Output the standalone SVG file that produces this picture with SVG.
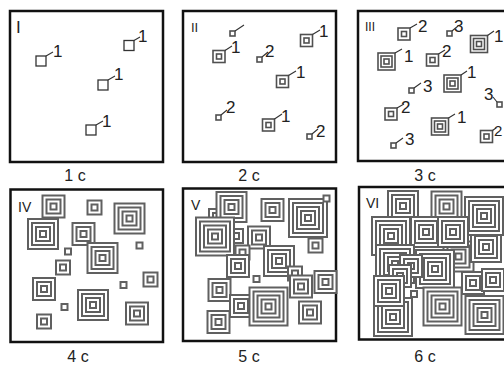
<svg xmlns="http://www.w3.org/2000/svg" xmlns:xlink="http://www.w3.org/1999/xlink" width="504" height="365" viewBox="0 0 504 365">
<style>
.fr{fill:none;stroke:#111;stroke-width:2.5}
.r{fill:#fff;stroke:#606060;stroke-width:2}
.t{fill:#fff;stroke:#505050;stroke-width:1.6}
.p{fill:#fff;stroke:#333;stroke-width:1.3}
.k{fill:none;stroke:#333;stroke-width:1.1}
.n{font-family:"Liberation Sans",Arial,sans-serif;font-size:17px;fill:#222}
.rn{font-family:"Liberation Sans",Arial,sans-serif;font-size:14px;fill:#222}
.c{font-family:"Liberation Sans",Arial,sans-serif;font-size:16px;fill:#222;text-anchor:middle}
</style>
<defs>
<g id="p1"><rect class="p" x="-5" y="-5" width="10" height="10"/></g>
<g id="t1"><rect class="t" x="-2.5" y="-2.5" width="5" height="5"/></g>
<g id="t2"><rect class="t" x="-6" y="-6" width="12" height="12"/><rect class="t" x="-2.5" y="-2.5" width="5" height="5"/></g>
<g id="t3"><rect class="t" x="-8.5" y="-8.5" width="17" height="17"/><rect class="t" x="-5.5" y="-5.5" width="11" height="11"/><rect class="t" x="-2.5" y="-2.5" width="5" height="5"/></g>
<g id="s1"><rect class="r" x="-3" y="-3" width="6" height="6"/></g>
<g id="s2"><rect class="r" x="-7" y="-7" width="14" height="14"/><use href="#s1"/></g>
<g id="s3"><rect class="r" x="-11" y="-11" width="22" height="22"/><use href="#s2"/></g>
<g id="s4"><rect class="r" x="-15" y="-15" width="30" height="30"/><use href="#s3"/></g>
<g id="s5"><rect class="r" x="-19" y="-19" width="38" height="38"/><use href="#s4"/></g>
</defs>

<g id="panel-I">
<rect class="fr" x="10" y="11" width="153" height="151"/>
<text class="rn" x="16" y="33" style="font-size:17px">I</text>
<use href="#p1" x="41" y="61"/><use href="#p1" x="129" y="45.5"/><use href="#p1" x="103" y="85"/><use href="#p1" x="91" y="130"/>
<path class="k" d="M46,56 L53,52 M134,40.5 L140,37 M108,80 L115,76 M96,125 L103,121"/>
<text class="n" x="53" y="57">1</text><text class="n" x="138" y="42">1</text><text class="n" x="114" y="80">1</text><text class="n" x="102" y="127">1</text>
<text class="c" x="75" y="181">1 c</text>
</g>

<g id="panel-II">
<rect class="fr" x="183" y="11" width="153" height="151"/>
<text class="rn" x="191" y="32" style="font-size:13px">II</text>
<use href="#t1" x="232.5" y="33.5"/>
<use href="#t2" x="219" y="56.5"/>
<use href="#t1" x="259.5" y="59.5"/>
<use href="#t2" x="306.5" y="40.5"/>
<use href="#t2" x="282.5" y="81.5"/>
<use href="#t1" x="218.5" y="117.5"/>
<use href="#t2" x="268.5" y="125"/>
<use href="#t1" x="309.5" y="136.5"/>
<path class="k" d="M235,31 L244,25 M225,50.5 L232,46 M262,57 L268,52 M312.5,34.5 L320,30 M288.5,75.5 L296,71 M221,115 L227,110 M274.5,119 L282,114 M312,134 L318,129"/>
<text class="n" x="231" y="53">1</text><text class="n" x="265" y="57">2</text><text class="n" x="319" y="37">1</text><text class="n" x="296" y="78">1</text>
<text class="n" x="226" y="113">2</text><text class="n" x="281" y="122">1</text><text class="n" x="316" y="137">2</text>
<text class="c" x="249" y="181">2 c</text>
</g>

<g id="panel-III">
<rect class="fr" x="358" y="11" width="160" height="150"/>
<text class="rn" x="365" y="31" style="font-size:12px">III</text>
<use href="#t2" x="404" y="34"/>
<use href="#t1" x="449.5" y="33.5"/>
<use href="#t3" x="479" y="44"/>
<use href="#t3" x="386.5" y="61.5"/>
<use href="#t2" x="432.5" y="60"/>
<use href="#t1" x="411.5" y="90.5"/>
<use href="#t3" x="452.5" y="83.5"/>
<use href="#t1" x="499.5" y="104.5"/>
<use href="#t2" x="391" y="114"/>
<use href="#t3" x="440" y="126.5"/>
<use href="#t2" x="486.5" y="136.5"/>
<use href="#t1" x="393.5" y="145.5"/>
<path class="k" d="M410,28 L417,24 M452,31 L458,26 M487.5,35.5 L494,31 M395,53 L402,49 M438.5,54 L445,50 M414,88 L421,83 M461,75 L467,71 M493,97 L497,102 M397,108 L404,104 M448.5,118 L455,114 M492.5,130.5 L496,128 M396,143 L403,138"/>
<text class="n" x="418" y="32">2</text><text class="n" x="454" y="32">3</text><text class="n" x="494" y="42">1</text>
<text class="n" x="404" y="62">1</text><text class="n" x="442" y="57">2</text><text class="n" x="423" y="92">3</text>
<text class="n" x="467" y="78">1</text><text class="n" x="484" y="100">3</text><text class="n" x="401" y="113">2</text>
<text class="n" x="457" y="123">1</text><text class="n" x="494" y="136" style="font-size:15px">2</text><text class="n" x="405" y="145">3</text>
<text class="c" x="425" y="181">3 c</text>
</g>

<g id="panel-IV">
<rect class="fr" x="10.5" y="189.5" width="152.5" height="152.5"/>
<text class="rn" x="18" y="212">IV</text>
<use href="#s3" x="53.5" y="206.5"/>
<use href="#s2" x="94.5" y="207.5"/>
<use href="#s4" x="129.5" y="218.5"/>
<use href="#s4" x="43" y="234"/>
<use href="#s3" x="83.5" y="234"/>
<use href="#s1" x="68" y="251.5"/>
<use href="#s1" x="139.5" y="245.5"/>
<use href="#s4" x="102.5" y="258"/>
<use href="#s2" x="63" y="267.5"/>
<use href="#s2" x="150.5" y="279.5"/>
<use href="#s1" x="123.5" y="285"/>
<use href="#s3" x="44" y="289"/>
<use href="#s4" x="93" y="305"/>
<use href="#s1" x="64.5" y="307"/>
<use href="#s3" x="137" y="313.5"/>
<use href="#s2" x="44" y="321.5"/>
<text class="c" x="78" y="362">4 c</text>
</g>

<g id="panel-V">
<rect class="fr" x="183" y="188.5" width="153" height="152.5"/>
<text class="rn" x="191" y="210">V</text>
<use href="#s3" x="220" y="220"/>
<use href="#s2" x="236" y="236"/>
<use href="#s4" x="231.5" y="207"/>
<use href="#s5" x="215" y="236.5"/>
<use href="#s3" x="272.5" y="210"/>
<use href="#s5" x="308" y="218"/>
<use href="#s1" x="326.5" y="198.5"/>
<use href="#s3" x="259" y="237.5"/>
<use href="#s2" x="315.5" y="245.5"/>
<use href="#s2" x="242.5" y="252.5"/>
<use href="#s4" x="279" y="261"/>
<use href="#s3" x="238" y="266"/>
<use href="#s1" x="256.5" y="279"/>
<use href="#s2" x="295" y="273.5"/>
<use href="#s3" x="219.5" y="290"/>
<use href="#s3" x="301" y="286.5"/>
<use href="#s3" x="325.5" y="282"/>
<use href="#s3" x="241" y="306"/>
<use href="#s5" x="268.5" y="306.5"/>
<use href="#s3" x="310" y="312.5"/>
<use href="#s3" x="218.5" y="322"/>
<text class="c" x="249" y="362">5 c</text>
</g>

<g id="panel-VI">
<rect class="fr" x="359" y="187" width="160" height="152.5"/>
<text class="rn" x="366" y="208">VI</text>
<use href="#s4" x="458.5" y="256.5"/>
<use href="#s4" x="486" y="247"/>
<use href="#s4" x="403" y="206"/>
<use href="#s4" x="446.5" y="206.5"/>
<use href="#s5" x="484" y="216"/>
<use href="#s5" x="391" y="236"/>
<use href="#s4" x="426" y="232"/>
<use href="#s4" x="453" y="232"/>
<use href="#s5" x="395" y="264"/>
<use href="#s5" x="393" y="317"/>
<use href="#s5" x="435" y="269"/>
<use href="#s3" x="411" y="266"/>
<use href="#s3" x="400" y="276"/>
<use href="#s4" x="389" y="291"/>
<use href="#s1" x="414" y="294"/>
<use href="#s5" x="442.5" y="306.5"/>
<use href="#s3" x="473" y="283"/>
<use href="#s3" x="493" y="280"/>
<use href="#s5" x="484.5" y="315"/>
<text class="c" x="425" y="362">6 c</text>
</g>
</svg>
